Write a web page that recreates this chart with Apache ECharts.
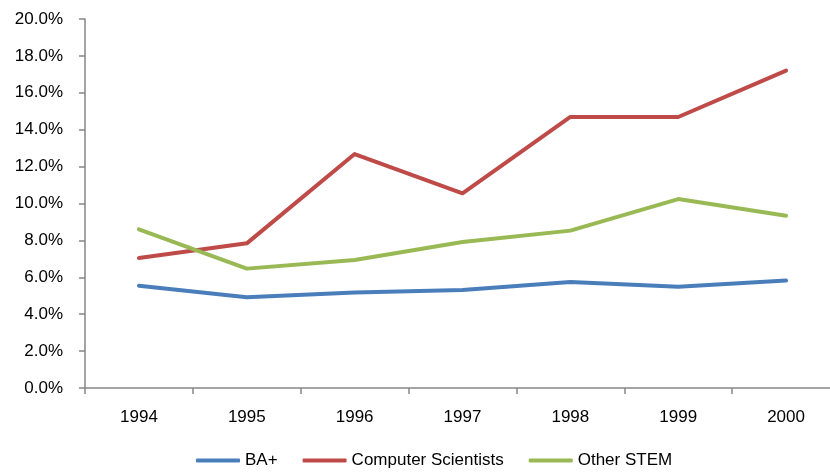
<!DOCTYPE html>
<html>
<head>
<meta charset="utf-8">
<script src="https://cdn.jsdelivr.net/npm/echarts@6/dist/echarts.min.js"></script>
<style>html,body{margin:0;padding:0;background:#fff;overflow:hidden}#c{width:842px;height:474px}</style>
</head>
<body>
<div id="c"></div>
<script>
var years = ['1994','1995','1996','1997','1998','1999','2000'];
var baPlus = [5.54, 4.92, 5.17, 5.31, 5.75, 5.49, 5.82];
var compSci = [7.05, 7.84, 12.68, 10.55, 14.69, 14.69, 17.2];
var otherStem = [8.60, 6.47, 6.94, 7.91, 8.53, 10.24, 9.34];

var chart = echarts.init(document.getElementById('c'), null, {renderer:'canvas'});
var font = 'Liberation Sans';
function ser(name, data, color){
  return {name:name, type:'line', data:data, showSymbol:false, symbol:'none',
    lineStyle:{color:color, width:4, cap:'round', join:'round'}, itemStyle:{color:color}, animation:false};
}
chart.setOption({
  animation:false,
  grid:{left:85, top:19, width:755, height:369, containLabel:false},
  xAxis:{type:'category', data:years, boundaryGap:true,
    axisLine:{lineStyle:{color:'#868686', width:1.5}},
    axisTick:{show:true, length:6, lineStyle:{color:'#868686', width:1.5}, alignWithLabel:false},
    axisLabel:{color:'#000', fontSize:17, fontFamily:font, margin:21},
    splitLine:{show:false}},
  yAxis:{type:'value', min:0, max:20, interval:2,
    axisLine:{show:true, lineStyle:{color:'#868686', width:1.5}},
    axisTick:{show:true, length:6, lineStyle:{color:'#868686', width:1.5}},
    axisLabel:{color:'#000', fontSize:17, fontFamily:font, margin:22, formatter:function(v){return v.toFixed(1)+'%';}},
    splitLine:{show:false}},
  legend:{left:191, top:447, icon:'roundRect', itemWidth:44, itemHeight:4, itemGap:25,
    textStyle:{color:'#000', fontSize:17, fontFamily:font},
    data:['BA+','Computer Scientists','Other STEM']},
  series:[ser('BA+', baPlus, '#4a7ebb'), ser('Computer Scientists', compSci, '#be4b48'), ser('Other STEM', otherStem, '#98b954')]
});
</script>
</body>
</html>
